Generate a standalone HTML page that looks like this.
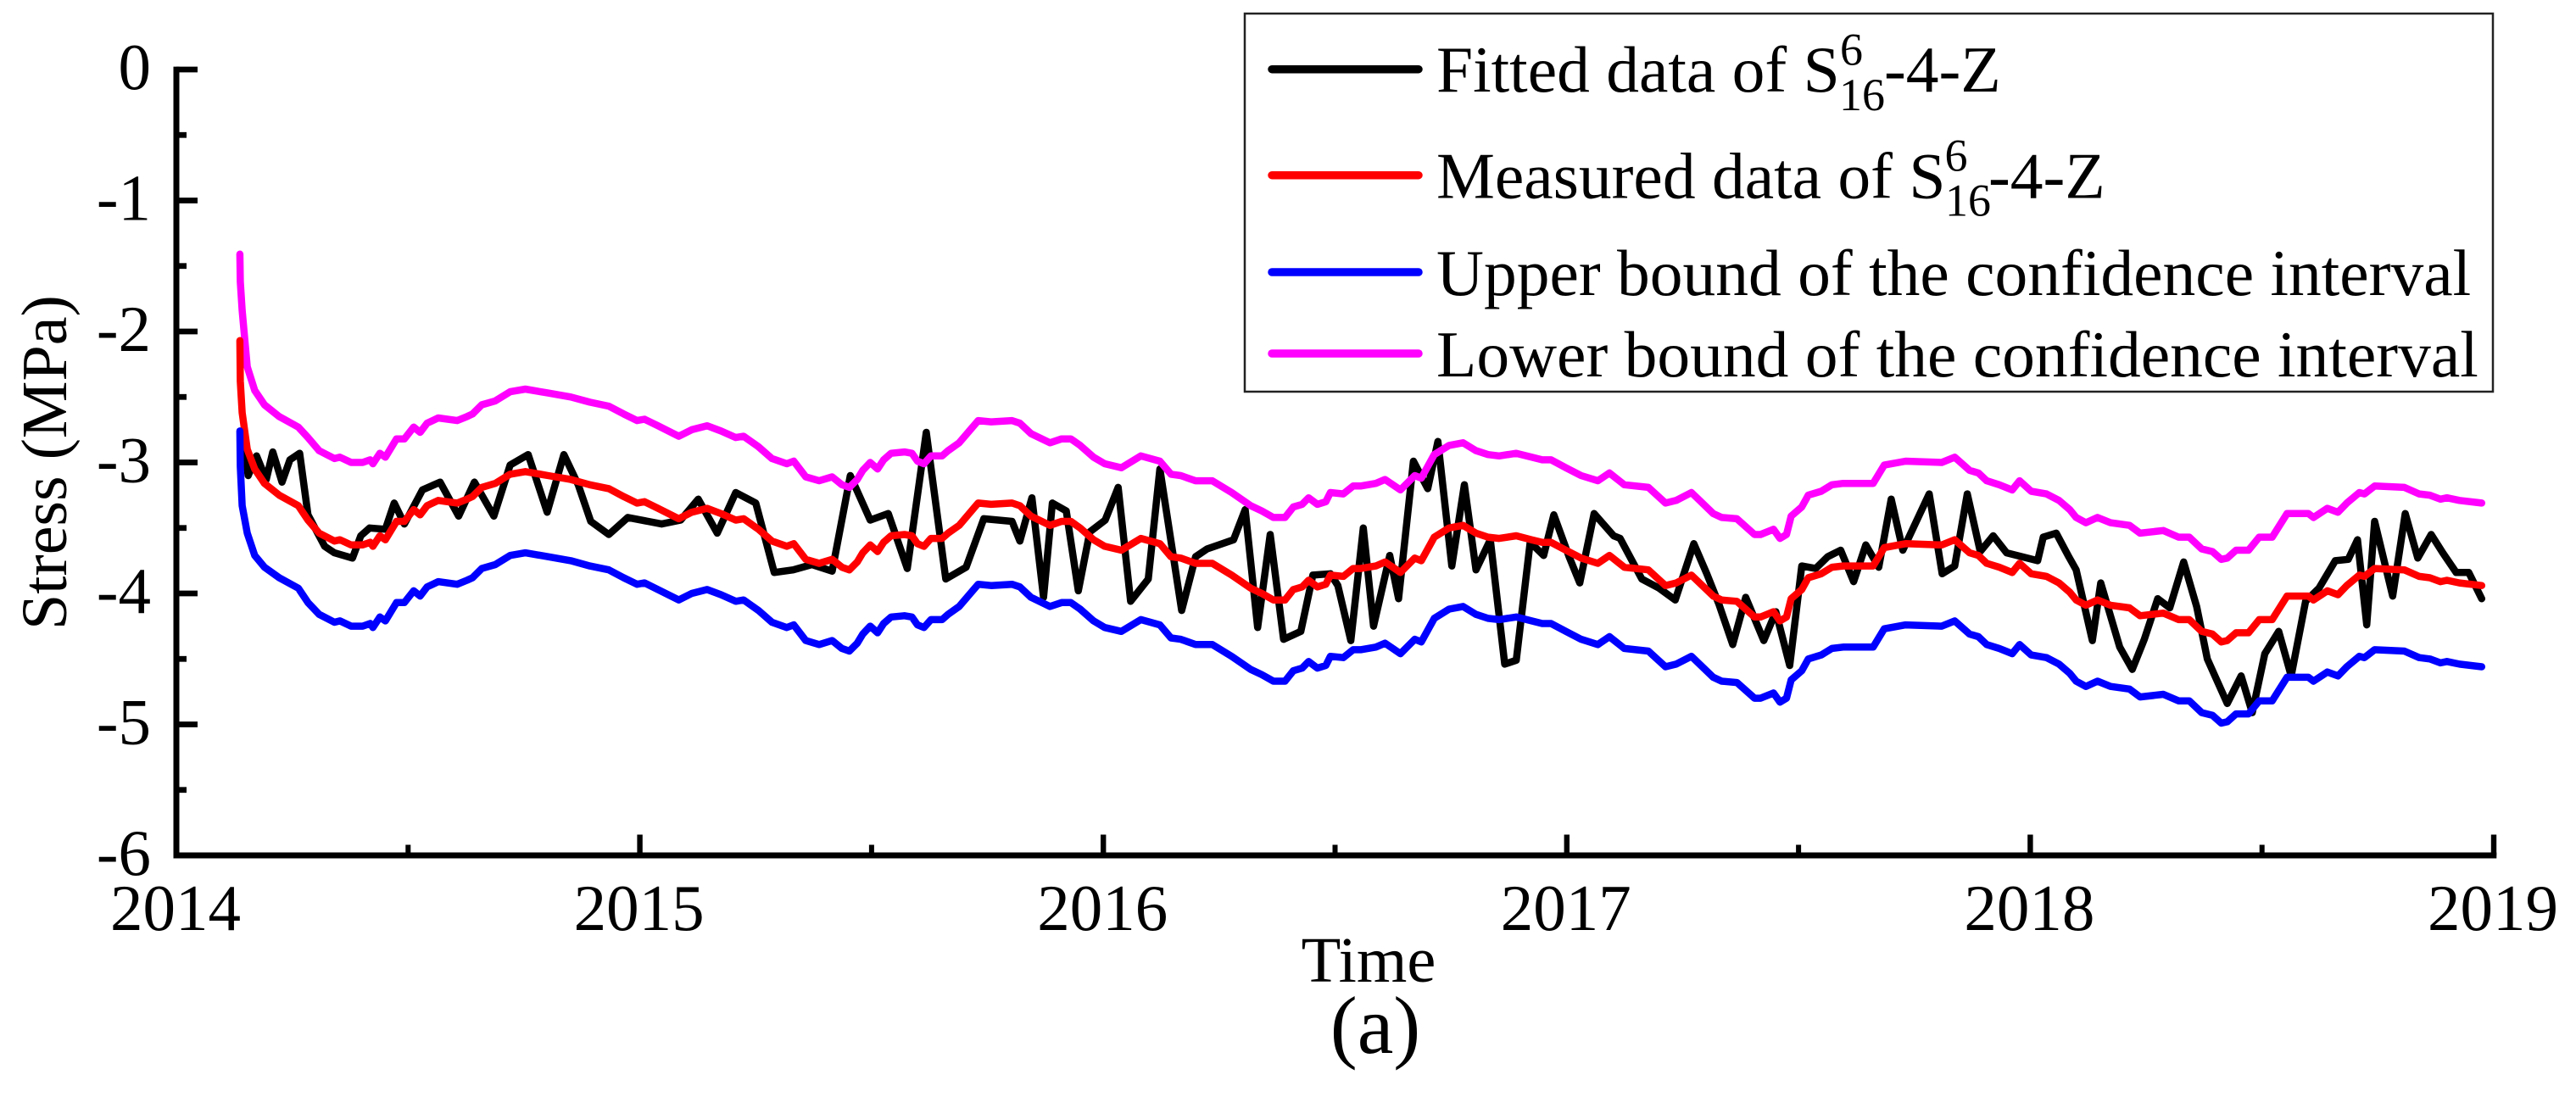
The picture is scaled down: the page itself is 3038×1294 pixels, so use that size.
<!DOCTYPE html>
<html lang="en">
<head>
<meta charset="utf-8">
<title>Stress over time</title>
<style>
html,body{margin:0;padding:0;background:#fff;}
svg{display:block;}
text{font-family:"Liberation Serif","Times New Roman",serif;fill:#000;}
</style>
</head>
<body>
<svg id="chart" xmlns="http://www.w3.org/2000/svg" width="3038" height="1294" viewBox="0 0 3038 1294">
  <rect x="0" y="0" width="3038" height="1294" fill="#fff"/>
  <g id="series"></g>
  <g id="axes"></g>
  <text transform="translate(78,743) rotate(-90)" font-size="76">Stress (MPa)</text>
  <text x="1614" y="1158" font-size="76.5" text-anchor="middle">Time</text>
  <text x="1622" y="1242" font-size="96" text-anchor="middle">(a)</text>
  <g>
    <rect x="1468" y="16" width="1472" height="446" fill="#fff" stroke="#222" stroke-width="2.5"/>
    <line x1="1500" x2="1673" y1="81.7" y2="81.7" stroke="#000" stroke-width="9.5" stroke-linecap="round"/>
    <text x="1694" y="108" font-size="77.5">Fitted data of S</text>
    <text x="2170" y="76.7" font-size="54">6</text>
    <text x="2169" y="130" font-size="54">16</text>
    <text x="2222" y="108" font-size="77.5">-4-Z</text>
    <line x1="1500" x2="1673" y1="206.7" y2="206.7" stroke="#f00" stroke-width="9.5" stroke-linecap="round"/>
    <text x="1694" y="233.3" font-size="77.5">Measured data of S</text>
    <text x="2293.5" y="201.7" font-size="54">6</text>
    <text x="2294" y="254.3" font-size="54">16</text>
    <text x="2345" y="233.3" font-size="77.5">-4-Z</text>
    <line x1="1500" x2="1673" y1="321" y2="321" stroke="#00f" stroke-width="9.5" stroke-linecap="round"/>
    <text x="1694" y="348" font-size="77.5">Upper bound of the confidence interval</text>
    <line x1="1500" x2="1673" y1="417" y2="417" stroke="#f0f" stroke-width="9.5" stroke-linecap="round"/>
    <text x="1694" y="444" font-size="77.5">Lower bound of the confidence interval</text>
  </g>
</svg>
<script>
var xTickYears = [2014, 2015, 2016, 2017, 2018, 2019];
var xTickLabels = ["2014", "2015", "2016", "2017", "2018", "2019"];
var xMinorYears = [2014.5, 2015.5, 2016.5, 2017.5, 2018.5];
var yTickValues = [0, -1, -2, -3, -4, -5, -6];
var yTickLabels = ["0", "-1", "-2", "-3", "-4", "-5", "-6"];
var yMinorValues = [-0.5, -1.5, -2.5, -3.5, -4.5, -5.5];

var fittedYears = [2014.141,2014.155,2014.173,2014.194,2014.208,2014.228,2014.245,2014.266,2014.284,2014.320,2014.341,2014.380,2014.398,2014.417,2014.451,2014.470,2014.492,2014.531,2014.569,2014.609,2014.643,2014.685,2014.720,2014.759,2014.800,2014.836,2014.867,2014.894,2014.933,2014.974,2015.047,2015.088,2015.126,2015.167,2015.207,
2015.250,2015.290,2015.331,2015.371,2015.415,2015.454,2015.497,2015.536,2015.577,2015.618,2015.660,2015.704,2015.742,2015.803,2015.820,2015.846,2015.871,2015.890,2015.920,2015.946,2015.971,2016.004,2016.032,2016.059,2016.097,2016.122,2016.169,2016.199,2016.224,2016.281,2016.306,2016.333,2016.360,2016.389,2016.426,
2016.452,2016.490,2016.506,2016.534,2016.561,2016.583,2016.618,2016.637,2016.669,2016.700,2016.722,2016.752,2016.779,2016.804,2016.835,2016.866,2016.891,2016.921,2016.950,2016.972,2017.005,2017.028,2017.059,2017.101,2017.115,2017.162,2017.199,2017.234,2017.274,2017.302,2017.328,2017.358,2017.386,2017.425,2017.451,2017.481,2017.507,2017.537,2017.563,2017.591,2017.619,2017.645,2017.673,2017.700,2017.725,
2017.782,2017.810,2017.837,2017.864,2017.892,2017.920,2017.949,2018.016,2018.028,2018.056,2018.083,2018.099,2018.134,2018.152,2018.193,2018.220,2018.246,2018.275,2018.301,2018.331,2018.359,2018.382,2018.425,2018.455,2018.479,2018.506,2018.536,2018.563,2018.594,2018.623,2018.658,2018.686,2018.706,2018.726,2018.743,2018.782,2018.809,2018.836,2018.865,2018.890,2018.919,2018.946,2018.974];

var fittedValues = [-2.77,-3.10,-2.95,-3.13,-2.92,-3.15,-2.98,-2.93,-3.40,-3.64,-3.69,-3.73,-3.56,-3.50,-3.51,-3.31,-3.47,-3.21,-3.15,-3.41,-3.15,-3.41,-3.02,-2.94,-3.38,-2.94,-3.17,-3.45,-3.55,-3.42,-3.47,-3.44,-3.28,-3.54,-3.23,
-3.31,-3.84,-3.82,-3.78,-3.83,-3.10,-3.44,-3.39,-3.81,-2.77,-3.89,-3.80,-3.43,-3.45,-3.60,-3.27,-4.03,-3.31,-3.37,-3.98,-3.53,-3.44,-3.19,-4.06,-3.89,-3.05,-4.13,-3.72,-3.66,-3.59,-3.36,-4.26,-3.55,-4.35,-4.29,
-3.86,-3.85,-3.94,-4.36,-3.50,-4.25,-3.71,-4.04,-2.99,-3.20,-2.84,-3.79,-3.17,-3.82,-3.59,-4.54,-4.51,-3.61,-3.71,-3.40,-3.72,-3.92,-3.39,-3.56,-3.58,-3.89,-3.96,-4.05,-3.62,-3.85,-4.08,-4.39,-4.03,-4.36,-4.14,-4.55,-3.79,-3.81,-3.72,-3.67,-3.91,-3.63,-3.80,-3.28,-3.67,
-3.24,-3.85,-3.79,-3.24,-3.68,-3.56,-3.69,-3.75,-3.57,-3.54,-3.72,-3.82,-4.36,-3.92,-4.41,-4.58,-4.35,-4.04,-4.11,-3.76,-4.10,-4.50,-4.84,-4.63,-4.91,-4.46,-4.29,-4.63,-4.06,-3.96,-3.75,-3.74,-3.59,-4.24,-3.45,-4.02,-3.39,-3.73,-3.55,-3.69,-3.84,-3.84,-4.04];

var measuredYears = [2014.137,2014.138,2014.142,2014.153,2014.169,2014.190,2014.222,2014.263,2014.284,2014.308,2014.341,2014.353,2014.377,2014.402,2014.418,2014.424,2014.439,2014.451,2014.475,2014.492,2014.512,2014.526,2014.541,2014.565,2014.606,2014.627,2014.639,2014.659,2014.688,2014.720,2014.753,2014.802,2014.851,2014.892,2014.933,2014.965,2014.994,2015.010,2015.039,2015.084,2015.112,2015.145,
2015.175,2015.207,2015.224,2015.256,2015.285,2015.317,2015.332,2015.358,2015.387,2015.415,2015.436,2015.452,2015.469,2015.481,2015.497,2015.513,2015.526,2015.542,2015.571,2015.587,2015.599,2015.613,2015.628,2015.652,2015.665,2015.689,2015.730,2015.758,2015.803,2015.820,2015.844,2015.885,2015.910,2015.930,2015.950,2015.979,2016.003,2016.039,2016.081,2016.122,2016.146,2016.167,2016.199,2016.235,2016.277,2016.318,2016.342,2016.367,
2016.392,2016.410,2016.429,2016.443,2016.462,2016.480,2016.490,2016.518,2016.539,2016.555,2016.588,2016.608,2016.641,2016.672,2016.686,2016.714,2016.746,2016.776,2016.804,2016.830,2016.854,2016.891,2016.924,2016.947,2016.966,2016.998,2017.031,2017.067,2017.092,2017.124,2017.176,2017.213,2017.236,2017.269,2017.316,2017.334,2017.367,2017.405,2017.418,2017.446,2017.460,2017.474,2017.484,2017.507,2017.521,2017.549,2017.572,2017.596,2017.661,2017.685,2017.731,
2017.809,2017.837,2017.869,2017.888,2017.906,2017.933,2017.961,2017.977,2018.002,2018.035,2018.062,2018.085,2018.099,2018.120,2018.145,2018.173,2018.214,2018.237,2018.287,2018.320,2018.343,2018.370,2018.393,2018.412,2018.425,2018.444,2018.471,2018.494,2018.522,2018.554,2018.600,2018.611,2018.641,2018.664,2018.683,2018.710,2018.721,2018.743,2018.807,2018.839,2018.862,2018.885,2018.899,2018.926,2018.974];

var measuredValues = [-2.07,-2.38,-2.62,-2.90,-3.05,-3.16,-3.25,-3.33,-3.44,-3.54,-3.60,-3.59,-3.63,-3.63,-3.61,-3.64,-3.56,-3.59,-3.45,-3.45,-3.36,-3.40,-3.33,-3.29,-3.31,-3.28,-3.26,-3.19,-3.16,-3.09,-3.07,-3.10,-3.13,-3.17,-3.20,-3.26,-3.31,-3.30,-3.35,-3.43,-3.38,-3.35,
-3.39,-3.44,-3.43,-3.51,-3.60,-3.64,-3.62,-3.74,-3.77,-3.74,-3.80,-3.82,-3.76,-3.69,-3.63,-3.68,-3.61,-3.56,-3.55,-3.56,-3.62,-3.64,-3.58,-3.58,-3.54,-3.48,-3.31,-3.32,-3.31,-3.33,-3.41,-3.48,-3.45,-3.45,-3.50,-3.59,-3.64,-3.67,-3.58,-3.62,-3.72,-3.73,-3.77,-3.77,-3.86,-3.96,-4.00,-4.05,
-4.05,-3.97,-3.95,-3.90,-3.95,-3.93,-3.86,-3.87,-3.81,-3.81,-3.79,-3.76,-3.84,-3.73,-3.75,-3.57,-3.50,-3.48,-3.54,-3.57,-3.58,-3.56,-3.59,-3.61,-3.61,-3.67,-3.73,-3.77,-3.71,-3.80,-3.82,-3.94,-3.92,-3.86,-4.02,-4.05,-4.06,-4.18,-4.18,-4.14,-4.21,-4.18,-4.04,-3.97,-3.88,-3.85,-3.80,-3.79,-3.79,-3.65,-3.62,
-3.63,-3.59,-3.69,-3.71,-3.77,-3.80,-3.84,-3.77,-3.85,-3.87,-3.92,-3.99,-4.05,-4.09,-4.05,-4.09,-4.11,-4.17,-4.15,-4.20,-4.20,-4.29,-4.31,-4.37,-4.36,-4.30,-4.30,-4.20,-4.20,-4.02,-4.02,-4.05,-3.98,-4.01,-3.94,-3.86,-3.87,-3.81,-3.82,-3.87,-3.88,-3.91,-3.90,-3.92,-3.94];

var lowerBoundValues = [-1.41,-1.62,-1.84,-2.27,-2.45,-2.56,-2.65,-2.73,-2.81,-2.91,-2.97,-2.96,-3.00,-3.00,-2.98,-3.01,-2.93,-2.96,-2.82,-2.82,-2.73,-2.77,-2.70,-2.66,-2.68,-2.65,-2.63,-2.56,-2.53,-2.46,-2.44,-2.47,-2.50,-2.54,-2.57,-2.63,-2.68,-2.67,-2.72,-2.80,-2.75,-2.72,
-2.76,-2.81,-2.80,-2.88,-2.97,-3.01,-2.99,-3.11,-3.14,-3.11,-3.17,-3.19,-3.13,-3.06,-3.00,-3.05,-2.98,-2.93,-2.92,-2.93,-2.99,-3.01,-2.95,-2.95,-2.91,-2.85,-2.68,-2.69,-2.68,-2.70,-2.78,-2.85,-2.82,-2.82,-2.87,-2.96,-3.01,-3.04,-2.95,-2.99,-3.09,-3.10,-3.14,-3.14,-3.23,-3.33,-3.37,-3.42,
-3.42,-3.34,-3.32,-3.27,-3.32,-3.30,-3.23,-3.24,-3.18,-3.18,-3.16,-3.13,-3.21,-3.10,-3.12,-2.94,-2.87,-2.85,-2.91,-2.94,-2.95,-2.93,-2.96,-2.98,-2.98,-3.04,-3.10,-3.14,-3.08,-3.17,-3.19,-3.31,-3.29,-3.23,-3.39,-3.42,-3.43,-3.55,-3.55,-3.51,-3.58,-3.55,-3.41,-3.34,-3.25,-3.22,-3.17,-3.16,-3.16,-3.02,-2.99,
-3.00,-2.96,-3.06,-3.08,-3.14,-3.17,-3.21,-3.14,-3.22,-3.24,-3.29,-3.36,-3.42,-3.46,-3.42,-3.46,-3.48,-3.54,-3.52,-3.57,-3.57,-3.66,-3.68,-3.74,-3.73,-3.67,-3.67,-3.57,-3.57,-3.39,-3.39,-3.42,-3.35,-3.38,-3.31,-3.23,-3.24,-3.18,-3.19,-3.24,-3.25,-3.28,-3.27,-3.29,-3.31];

var upperBoundValues = [-2.76,-3.03,-3.33,-3.54,-3.71,-3.80,-3.88,-3.96,-4.07,-4.16,-4.22,-4.21,-4.25,-4.25,-4.23,-4.26,-4.18,-4.21,-4.07,-4.07,-3.98,-4.02,-3.95,-3.91,-3.93,-3.90,-3.88,-3.81,-3.78,-3.71,-3.69,-3.72,-3.75,-3.79,-3.82,-3.88,-3.93,-3.92,-3.97,-4.05,-4.00,-3.97,
-4.01,-4.06,-4.05,-4.13,-4.22,-4.26,-4.24,-4.36,-4.39,-4.36,-4.42,-4.44,-4.38,-4.31,-4.25,-4.30,-4.23,-4.18,-4.17,-4.18,-4.24,-4.26,-4.20,-4.20,-4.16,-4.10,-3.93,-3.94,-3.93,-3.95,-4.03,-4.10,-4.07,-4.07,-4.12,-4.21,-4.26,-4.29,-4.20,-4.24,-4.34,-4.35,-4.39,-4.39,-4.48,-4.58,-4.62,-4.67,
-4.67,-4.59,-4.57,-4.52,-4.57,-4.55,-4.48,-4.49,-4.43,-4.43,-4.41,-4.38,-4.46,-4.35,-4.37,-4.19,-4.12,-4.10,-4.16,-4.19,-4.20,-4.18,-4.21,-4.23,-4.23,-4.29,-4.35,-4.39,-4.33,-4.42,-4.44,-4.56,-4.54,-4.48,-4.64,-4.67,-4.68,-4.80,-4.80,-4.76,-4.83,-4.80,-4.66,-4.59,-4.50,-4.47,-4.42,-4.41,-4.41,-4.27,-4.24,
-4.25,-4.21,-4.31,-4.33,-4.39,-4.42,-4.46,-4.39,-4.47,-4.49,-4.54,-4.61,-4.67,-4.71,-4.67,-4.71,-4.73,-4.79,-4.77,-4.82,-4.82,-4.91,-4.93,-4.99,-4.98,-4.92,-4.92,-4.82,-4.82,-4.64,-4.64,-4.67,-4.60,-4.63,-4.56,-4.48,-4.49,-4.43,-4.44,-4.49,-4.50,-4.53,-4.52,-4.54,-4.56];

var NS = "http://www.w3.org/2000/svg";
function xScale(year) { return 208 + (year - 2014) * 546.6; }
function yScale(value) { return 82 - value * 154.5; }

function polyPoints(years, values) {
  var out = [];
  var n = Math.min(years.length, values.length);
  for (var i = 0; i < n; i++) {
    out.push(xScale(years[i]).toFixed(1) + "," + yScale(values[i]).toFixed(1));
  }
  return out.join(" ");
}

var seriesLayer = document.getElementById("series");
var axesLayer = document.getElementById("axes");

function makeLine(name, years, values, color) {
  var el = document.createElementNS(NS, "polyline");
  
  
  el.setAttribute("points", polyPoints(years, values));
  el.setAttribute("fill", "none");
  el.setAttribute("stroke", color);
  el.setAttribute("stroke-width", "8.5");
  el.setAttribute("stroke-linejoin", "round");
  el.setAttribute("stroke-linecap", "round");
  seriesLayer.appendChild(el);
}
makeLine("fitted-data-line", fittedYears, fittedValues, "#000000");
makeLine("lower-bound-line", measuredYears, lowerBoundValues, "#ff00ff");
makeLine("measured-data-line", measuredYears, measuredValues, "#ff0000");
makeLine("upper-bound-line", measuredYears, upperBoundValues, "#0000ff");

function makeRule(name, x1, y1, x2, y2, w) {
  var el = document.createElementNS(NS, "line");
  
  
  el.setAttribute("x1", x1);
  el.setAttribute("y1", y1);
  el.setAttribute("x2", x2);
  el.setAttribute("y2", y2);
  el.setAttribute("stroke", "#000");
  el.setAttribute("stroke-width", w);
  axesLayer.appendChild(el);
}
function makeLabel(name, str, x, y, anchor) {
  var el = document.createElementNS(NS, "text");
  
  
  el.setAttribute("x", x);
  el.setAttribute("y", y);
  el.setAttribute("font-size", "77");
  el.setAttribute("text-anchor", anchor);
  el.textContent = str;
  axesLayer.appendChild(el);
}

makeRule("y-axis-line", xScale(2014), yScale(0) - 3.4, xScale(2014), yScale(-6) + 3.4, 7);
makeRule("x-axis-line", xScale(2014) - 3.5, yScale(-6), xScale(2019) + 3.3, yScale(-6), 7);

xTickYears.forEach(function (yr, i) {
  makeRule("x-major-tick", xScale(yr), yScale(-6), xScale(yr), yScale(-6) - 24.5, 6.4);
  makeLabel("x-tick-label", xTickLabels[i], xScale(yr) - 1, 1097, "middle");
});
xMinorYears.forEach(function (yr) {
  makeRule("x-minor-tick", xScale(yr), yScale(-6), xScale(yr), yScale(-6) - 12.5, 6);
});
yTickValues.forEach(function (v, i) {
  makeRule("y-major-tick", xScale(2014), yScale(v), 233, yScale(v), 6.8);
  makeLabel("y-tick-label", yTickLabels[i], 178, yScale(v) + 23, "end");
});
yMinorValues.forEach(function (v) {
  makeRule("y-minor-tick", xScale(2014), yScale(v), 220, yScale(v), 6.8);
});
</script>
</body>
</html>
